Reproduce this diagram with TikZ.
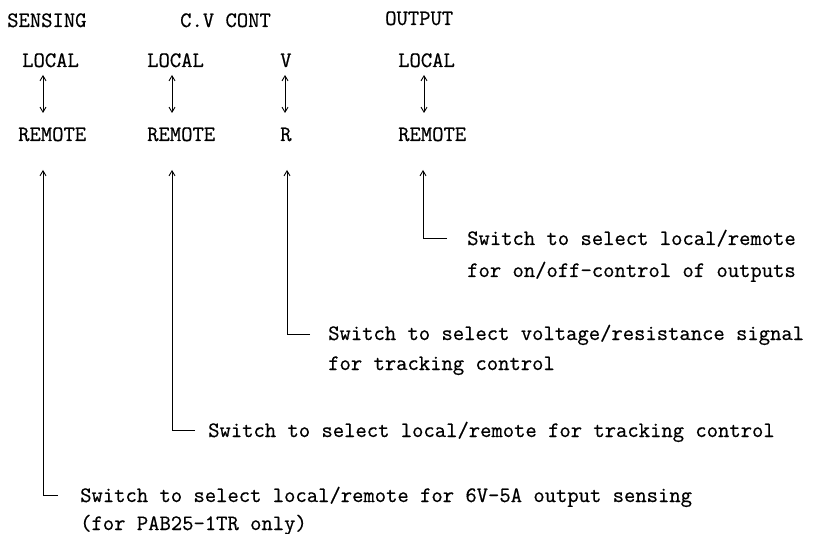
\documentclass[tikz,border=0pt]{standalone}
\usepackage{fontspec}
\setmonofont{Latin Modern Mono}[FakeBold=0.6]
\usepackage{tikz}
\usetikzlibrary{arrows.meta,calc}

\tikzset{
  lbl/.style={anchor=base west,inner sep=0pt,font=\ttfamily\fontsize{22pt}{26pt}\selectfont},
  sel/.style={line width=0.9pt,-{Straight Barb[length=5pt,width=6pt]}},
  swap/.style={line width=0.9pt,{Straight Barb[length=5pt,width=6pt]}-{Straight Barb[length=5pt,width=6pt]}},
  tick/.style={line width=0.9pt}
}

\begin{document}
\begin{tikzpicture}[x=1pt,y=-1pt]
  \useasboundingbox (0,0) rectangle (813,534);
  % headings
  \node[lbl] (h_sens) at (7,27) {SENSING};
  \node[lbl] (h_cv) at (180,27) {C.V CONT};
  \node[lbl] (h_out) at (385,25) {OUTPUT};
  % switch positions
  \node[lbl] (l_sens) at (22,67) {LOCAL};
  \node[lbl] (r_sens) at (18,141) {REMOTE};
  \node[lbl] (l_cv) at (147,67) {LOCAL};
  \node[lbl] (r_cv) at (147,141) {REMOTE};
  \node[lbl] (l_vr) at (280,67) {V};
  \node[lbl] (r_vr) at (280,141) {R};
  \node[lbl] (l_out) at (398,67) {LOCAL};
  \node[lbl] (r_out) at (398,141) {REMOTE};
  % toggle arrows
  \foreach \nm/\x in {sens/43,cv/172,vr/285,out/424}{
    \coordinate (t_\nm) at (\x,75);
    \coordinate (b_\nm) at (\x,113);
    \draw[swap] (t_\nm) -- (b_\nm);
  }
  % descriptions
  \node[lbl] (d_out) at (467,245) {Switch to select local/remote};
  \node[lbl] (d_out2) at (467,277) {for on/off-control of outputs};
  \node[lbl] (d_vr) at (328,340) {Switch to select voltage/resistance signal};
  \node[lbl] (d_vr2) at (328,370) {for tracking control};
  \node[lbl] (d_cv) at (208,437) {Switch to select local/remote for tracking control};
  \node[lbl] (d_sens) at (80,502) {Switch to select local/remote for 6V-5A output sensing};
  \node[lbl] (d_sens2) at (80,530) {(for PAB25-1TR only)};
  % leader lines
  \foreach \nm/\x/\y/\e in {out/423/238/447,vr/287/334/310,cv/172/430/195,sens/43/495/58}{
    \coordinate (c_\nm) at (\x,\y);
    \coordinate (e_\nm) at (\e,\y);
    \coordinate (p_\nm) at (\x,170);
    \draw[sel] (e_\nm) -- (c_\nm) -- (p_\nm);
  }
\end{tikzpicture}
\end{document}
